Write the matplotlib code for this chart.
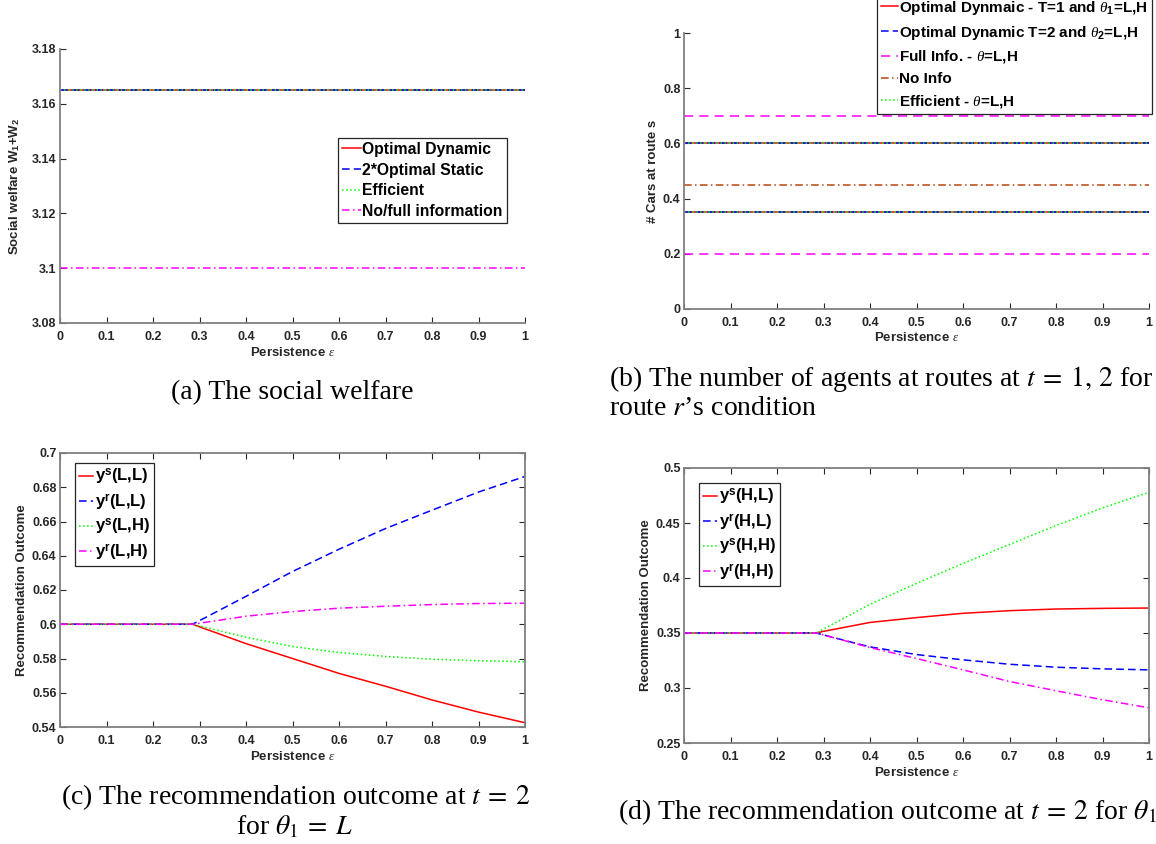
import matplotlib
matplotlib.use("Agg")
import matplotlib.pyplot as plt
from matplotlib.ticker import FuncFormatter, MultipleLocator

plt.rcParams['font.family'] = ['Liberation Sans', 'DejaVu Sans']
plt.rcParams['mathtext.fontset'] = 'custom'
plt.rcParams['mathtext.rm'] = 'Liberation Sans:bold'
plt.rcParams['mathtext.bf'] = 'Liberation Sans:bold'
plt.rcParams['mathtext.sf'] = 'Liberation Sans:bold'
plt.rcParams['mathtext.it'] = 'Liberation Serif:italic'

W, H = 1156, 844

# persistence values
eps_flat = [0.0, 1.0]
eps = [0.0, 0.285, 0.3, 0.4, 0.5, 0.6, 0.7, 0.8, 0.9, 1.0]

# (a) social welfare
welfare_dyn = 3.165
welfare_static2 = 3.165
welfare_eff = 3.165
welfare_nofull = 3.1

# (b) cars at route s, for theta = L and H
cars_dyn_t1 = [0.6, 0.35]
cars_dyn_t2 = [0.6, 0.35]
cars_full = [0.7, 0.2]
cars_noinfo = [0.45]
cars_eff = [0.6, 0.35]

# (c) recommendation outcome, theta1 = L
ys_LL = [0.6, 0.6, 0.5985, 0.5887, 0.5800, 0.5713, 0.5638, 0.5558, 0.5487, 0.5425]
yr_LL = [0.6, 0.6, 0.6021, 0.6163, 0.6308, 0.6438, 0.6559, 0.6666, 0.6772, 0.6863]
ys_LH = [0.6, 0.6, 0.5990, 0.5924, 0.5870, 0.5835, 0.5812, 0.5796, 0.5787, 0.5781]
yr_LH = [0.6, 0.6, 0.6006, 0.6047, 0.6074, 0.6094, 0.6105, 0.6115, 0.6121, 0.6123]

# (d) recommendation outcome, theta1 = H
ys_HL = [0.35, 0.35, 0.3515, 0.3596, 0.3640, 0.3679, 0.3703, 0.3718, 0.3724, 0.3727]
yr_HL = [0.35, 0.35, 0.3482, 0.3374, 0.3304, 0.3256, 0.3216, 0.3189, 0.3174, 0.3165]
ys_HH = [0.35, 0.35, 0.3536, 0.3761, 0.3951, 0.4132, 0.4305, 0.4477, 0.4637, 0.4779]
yr_HH = [0.35, 0.35, 0.3482, 0.3368, 0.3268, 0.3165, 0.3059, 0.2975, 0.2893, 0.2820]

RED, BLUE, GREEN, MAG, BROWN = '#ff0000', '#0000ff', '#00ff00', '#ff00ff', '#b8460e'
LW = 1.1
DASH = (5, 2.7)
DASHDOT = (5, 2.2, 1, 2.2)
TXT = '#262626'
LAB = dict(fontsize=9.5, fontweight='bold', color=TXT, va='center')

fig = plt.figure(figsize=(W / 100, H / 100), dpi=100)


def make_axes(l, r, t, b):
    return fig.add_axes([l / W, 1 - b / H, (r - l) / W, (b - t) / H])


def style(ax, box, ylim, ystep, xlab_px, ylab_px, w_px, h_px):
    ax.set_xlim(0, 1)
    ax.set_ylim(*ylim)
    ax.xaxis.set_major_locator(MultipleLocator(0.1))
    ax.yaxis.set_major_locator(MultipleLocator(ystep))
    fmt = FuncFormatter(lambda v, p: '%g' % round(v, 4))
    ax.xaxis.set_major_formatter(fmt)
    ax.yaxis.set_major_formatter(fmt)
    ax.spines['top'].set_visible(box)
    ax.spines['right'].set_visible(box)
    for s in ax.spines.values():
        s.set_color('#808080')
        s.set_linewidth(1.3)
    ax.tick_params(direction='in', length=4, width=0.8, color=TXT, labelsize=9,
                   labelcolor=TXT, top=box, right=box)
    ax.tick_params(axis='x', pad=6)
    ax.tick_params(axis='y', pad=2.5)
    for t in ax.get_xticklabels() + ax.get_yticklabels():
        t.set_fontweight('bold')
    ax.xaxis.set_label_coords(0.5, -xlab_px / h_px)
    ax.yaxis.set_label_coords(-ylab_px / w_px, 0.5)


def legend(ax, handles, labels, x, y, fs, spacing, hlen=1.2, loc='upper left'):
    leg = ax.legend(handles, labels, loc=loc, bbox_to_anchor=(x / W, 1 - y / H),
                    bbox_transform=fig.transFigure, frameon=True,
                    prop={'size': fs, 'weight': 'bold'},
                    fancybox=False, framealpha=1, edgecolor=TXT, borderpad=0.25,
                    labelspacing=spacing, handlelength=hlen, handletextpad=0.1,
                    borderaxespad=0)
    leg.get_frame().set_linewidth(0.9)
    for t in leg.get_texts():
        t.set_color('black')
    return leg


def caption(x, y, s, ha='left'):
    fig.text(x / W, 1 - y / H, s, ha=ha, va='center', fontsize=20,
             family='Liberation Serif', weight='normal', color='black',
             math_fontfamily='stix')


# (a) social welfare
ax = make_axes(60, 525, 49, 323)
l1, = ax.plot(eps_flat, [welfare_dyn] * 2, color=RED, lw=LW)
l2, = ax.plot(eps_flat, [welfare_static2] * 2, color=BLUE, lw=LW, dashes=DASH)
l3, = ax.plot(eps_flat, [welfare_eff] * 2, color=GREEN, lw=LW, ls=':')
l4, = ax.plot(eps_flat, [welfare_nofull] * 2, color=MAG, lw=LW, dashes=DASHDOT)
ax.set_xlabel(r'Persistence $\epsilon$', **LAB)
ax.set_ylabel(r'Social welfare W$_1$+W$_2$', **LAB)
style(ax, False, (3.08, 3.18), 0.02, 30, 45, 465, 274)
legend(ax, [l1, l2, l3, l4],
       ['Optimal Dynamic', '2*Optimal Static', 'Efficient', 'No/full information'],
       338, 138, 11.3, 0.36)

# (b) cars at route s
ax = make_axes(684, 1149, 33, 309)
hb = {}
for i in range(2):
    hb['t1'], = ax.plot(eps_flat, [cars_dyn_t1[i]] * 2, color=RED, lw=LW)
    hb['t2'], = ax.plot(eps_flat, [cars_dyn_t2[i]] * 2, color=BLUE, lw=LW, dashes=DASH)
    hb['eff'], = ax.plot(eps_flat, [cars_eff[i]] * 2, color=GREEN, lw=LW, ls=':')
    hb['full'], = ax.plot(eps_flat, [cars_full[i]] * 2, color=MAG, lw=LW, dashes=(6, 4))
hb['no'], = ax.plot(eps_flat, [cars_noinfo[0]] * 2, color=BROWN, lw=LW, dashes=DASHDOT)
ax.set_xlabel(r'Persistence $\epsilon$', **LAB)
ax.set_ylabel('# Cars at route s', **LAB)
style(ax, False, (0, 1), 0.2, 29, 31, 465, 276)
legend(ax, [hb['t1'], hb['t2'], hb['full'], hb['no'], hb['eff']],
       [r'Optimal Dynmaic - T=1 and $\theta_{1}$=L,H',
        r'Optimal Dynamic T=2 and $\theta_{2}$=L,H',
        r'Full Info. - $\theta$=L,H',
        'No Info',
        r'Efficient - $\theta$=L,H'],
       877, 114, 11, 0.45, hlen=1.1, loc='lower left')

# (c) theta1 = L
ax = make_axes(60, 525, 453, 727)
c1, = ax.plot(eps, ys_LL, color=RED, lw=LW)
c2, = ax.plot(eps, yr_LL, color=BLUE, lw=LW, dashes=DASH)
c3, = ax.plot(eps, ys_LH, color=GREEN, lw=LW, ls=':')
c4, = ax.plot(eps, yr_LH, color=MAG, lw=LW, dashes=DASHDOT)
ax.set_xlabel(r'Persistence $\epsilon$', **LAB)
ax.set_ylabel('Recommendation Outcome', **LAB)
style(ax, True, (0.54, 0.7), 0.02, 30, 38, 465, 274)
legend(ax, [c1, c2, c3, c4],
       [r'y$^{\mathrm{s}}$(L,L)', r'y$^{\mathrm{r}}$(L,L)',
        r'y$^{\mathrm{s}}$(L,H)', r'y$^{\mathrm{r}}$(L,H)'],
       75, 463, 12, 0.3, hlen=0.85)

# (d) theta1 = H
ax = make_axes(684, 1149, 468, 743)
d1, = ax.plot(eps, ys_HL, color=RED, lw=LW)
d2, = ax.plot(eps, yr_HL, color=BLUE, lw=LW, dashes=DASH)
d3, = ax.plot(eps, ys_HH, color=GREEN, lw=LW, ls=':')
d4, = ax.plot(eps, yr_HH, color=MAG, lw=LW, dashes=DASHDOT)
ax.set_xlabel(r'Persistence $\epsilon$', **LAB)
ax.set_ylabel('Recommendation Outcome', **LAB)
style(ax, True, (0.25, 0.5), 0.05, 30, 38, 465, 275)
legend(ax, [d1, d2, d3, d4],
       [r'y$^{\mathrm{s}}$(H,L)', r'y$^{\mathrm{r}}$(H,L)',
        r'y$^{\mathrm{s}}$(H,H)', r'y$^{\mathrm{r}}$(H,H)'],
       699, 483, 12, 0.3, hlen=0.85)

# sub-figure captions
caption(292, 393, '(a) The social welfare', ha='center')
caption(609, 379, r'(b) The number of agents at routes at $t\:=\:1,\,2$ for different')
caption(609, 409, r'route $r$’s condition')
caption(61, 797, r'(c) The recommendation outcome at $t\:=\:2$')
caption(294, 827, r'for $\theta_1\:=\:L$', ha='center')
caption(618, 812, r'(d) The recommendation outcome at $t\:=\:2$ for $\theta_1\:=\:H$')

fig.savefig('out.png', dpi=100)
